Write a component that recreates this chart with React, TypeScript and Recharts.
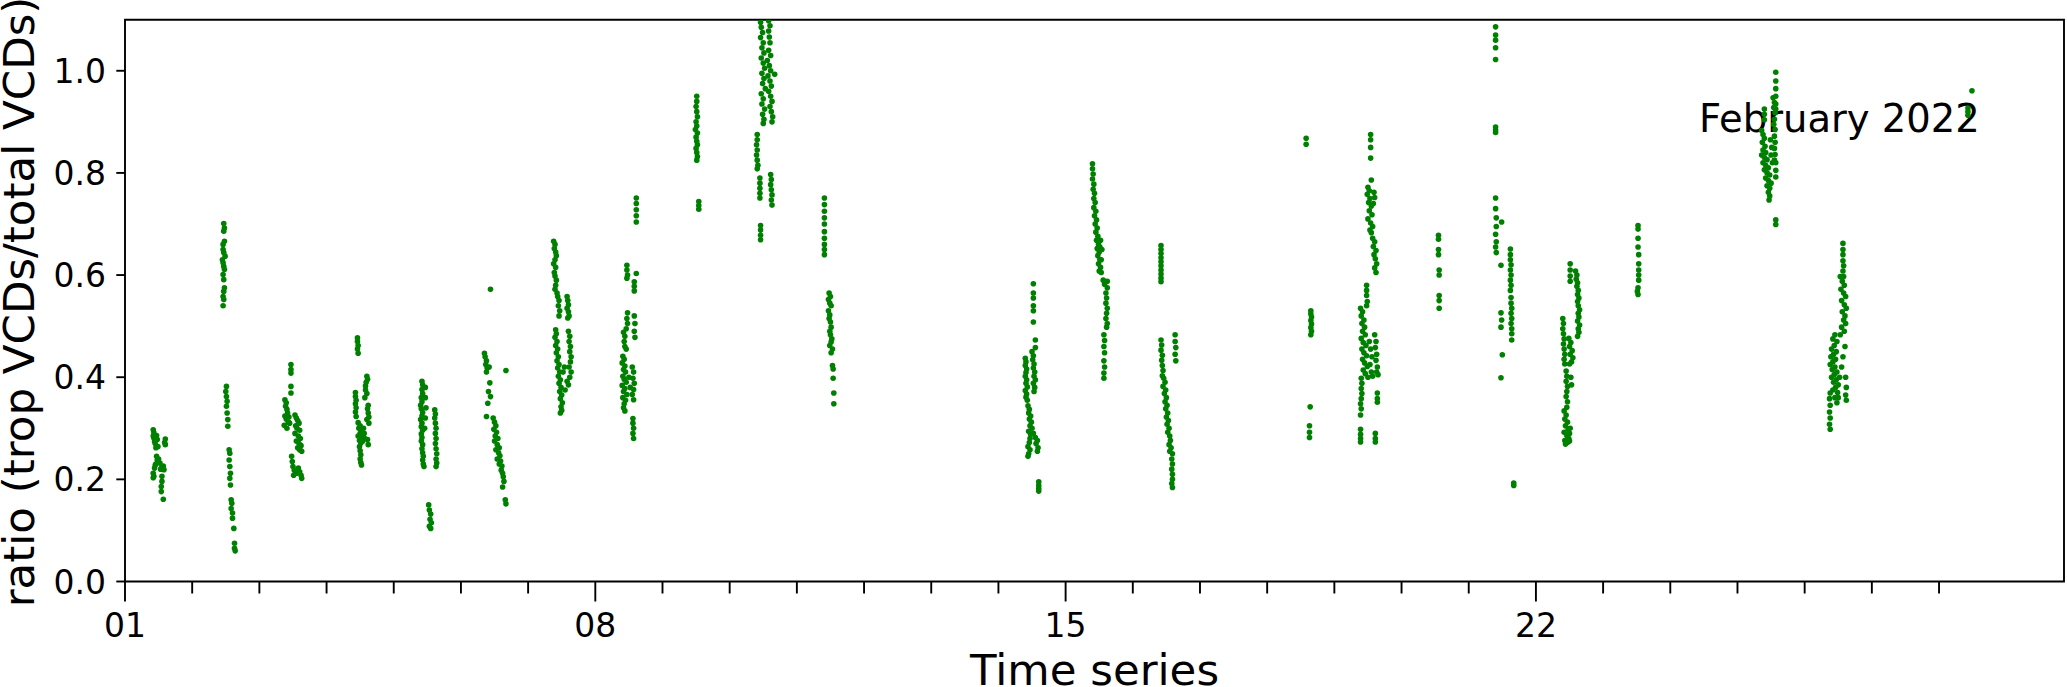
import { ScatterChart, Scatter, XAxis, YAxis, ReferenceArea } from "recharts";

// [day offset from Feb 01 00:00, trop/total VCD ratio]
type Pt = [number, number];

const feb01: Pt[] = [
  [0.42, 0.297], [0.43, 0.291], [0.42, 0.285], [0.43, 0.281], [0.44, 0.274], [0.45, 0.27], [0.46, 0.262], [0.47, 0.286],
  [0.48, 0.278], [0.49, 0.264], [0.6, 0.279], [0.6, 0.268], [0.47, 0.245], [0.48, 0.238], [0.45, 0.228], [0.44, 0.222],
  [0.5, 0.24], [0.52, 0.232], [0.53, 0.22], [0.55, 0.225], [0.57, 0.226], [0.58, 0.219], [0.42, 0.212], [0.43, 0.206],
  [0.42, 0.203], [0.55, 0.206], [0.55, 0.196], [0.54, 0.186], [0.54, 0.176], [0.57, 0.161], [0.46, 0.23], [0.59, 0.272],
];
const feb02: Pt[] = [
  [1.47, 0.701], [1.48, 0.692], [1.47, 0.686], [1.48, 0.666], [1.46, 0.66], [1.46, 0.65], [1.47, 0.644], [1.49, 0.637],
  [1.45, 0.63], [1.46, 0.624], [1.47, 0.617], [1.48, 0.611], [1.46, 0.601], [1.47, 0.591], [1.48, 0.575], [1.47, 0.568],
  [1.46, 0.558], [1.47, 0.552], [1.46, 0.54],
  [1.51, 0.382], [1.5, 0.372], [1.51, 0.362], [1.52, 0.353], [1.51, 0.343], [1.52, 0.33], [1.53, 0.317], [1.53, 0.304],
  [1.55, 0.258], [1.56, 0.251], [1.55, 0.238], [1.56, 0.225], [1.57, 0.212], [1.56, 0.202], [1.57, 0.189], [1.58, 0.16],
  [1.59, 0.153], [1.58, 0.143], [1.6, 0.134], [1.6, 0.124], [1.62, 0.104], [1.63, 0.075], [1.63, 0.065], [1.64, 0.06],
];
const feb03: Pt[] = [
  [2.47, 0.425], [2.47, 0.415], [2.47, 0.408], [2.47, 0.382], [2.47, 0.369],
  [2.38, 0.356], [2.4, 0.35], [2.39, 0.343], [2.41, 0.337], [2.42, 0.33], [2.38, 0.324], [2.4, 0.318], [2.43, 0.312],
  [2.37, 0.306], [2.41, 0.3], [2.44, 0.322], [2.45, 0.31],
  [2.53, 0.326], [2.55, 0.32], [2.57, 0.315], [2.59, 0.31], [2.54, 0.305], [2.56, 0.3], [2.6, 0.296], [2.53, 0.29],
  [2.58, 0.285], [2.61, 0.28], [2.55, 0.275], [2.59, 0.27], [2.62, 0.266], [2.57, 0.262], [2.6, 0.258], [2.63, 0.255],
  [2.48, 0.245], [2.49, 0.235], [2.5, 0.225], [2.52, 0.218], [2.55, 0.212], [2.58, 0.222], [2.6, 0.215], [2.62, 0.208],
  [2.63, 0.202], [2.51, 0.208],
];
const feb04: Pt[] = [
  [3.46, 0.477], [3.46, 0.47], [3.47, 0.462], [3.46, 0.455], [3.47, 0.447],
  [3.43, 0.37], [3.43, 0.362], [3.44, 0.355], [3.43, 0.348], [3.44, 0.34], [3.43, 0.332], [3.44, 0.323],
  [3.6, 0.402], [3.61, 0.396], [3.59, 0.39], [3.58, 0.383], [3.58, 0.375], [3.6, 0.368], [3.57, 0.36], [3.62, 0.345],
  [3.61, 0.338], [3.62, 0.33], [3.63, 0.322], [3.6, 0.317], [3.63, 0.31],
  [3.47, 0.311], [3.5, 0.305], [3.48, 0.3], [3.52, 0.296], [3.5, 0.29], [3.47, 0.285], [3.53, 0.281], [3.49, 0.276],
  [3.51, 0.271], [3.55, 0.3], [3.56, 0.29], [3.57, 0.28], [3.54, 0.275],
  [3.49, 0.264], [3.5, 0.256], [3.51, 0.248], [3.5, 0.24], [3.51, 0.233], [3.52, 0.228], [3.62, 0.268], [3.61, 0.278],
];
const feb05: Pt[] = [
  [4.42, 0.392], [4.43, 0.385], [4.42, 0.376], [4.43, 0.368], [4.41, 0.36], [4.42, 0.352], [4.4, 0.345], [4.41, 0.338],
  [4.43, 0.331], [4.42, 0.324], [4.4, 0.317], [4.42, 0.31], [4.41, 0.303], [4.43, 0.296], [4.41, 0.289], [4.42, 0.282],
  [4.41, 0.275], [4.43, 0.268], [4.42, 0.26], [4.43, 0.252], [4.44, 0.245], [4.43, 0.238], [4.44, 0.23], [4.45, 0.225],
  [4.47, 0.38], [4.47, 0.36], [4.48, 0.34], [4.47, 0.32], [4.46, 0.3],
  [4.61, 0.336], [4.62, 0.328], [4.61, 0.32], [4.62, 0.31], [4.63, 0.3], [4.62, 0.29], [4.63, 0.28], [4.62, 0.27],
  [4.63, 0.26], [4.64, 0.25], [4.63, 0.24], [4.64, 0.232], [4.63, 0.225],
  [4.52, 0.15], [4.53, 0.14], [4.55, 0.132], [4.54, 0.122], [4.56, 0.115], [4.53, 0.108], [4.55, 0.104],
];
const feb06: Pt[] = [
  [5.44, 0.572],
  [5.35, 0.447], [5.36, 0.44], [5.38, 0.432], [5.37, 0.425], [5.39, 0.418], [5.38, 0.41], [5.42, 0.42],
  [5.43, 0.389], [5.41, 0.372], [5.44, 0.362], [5.4, 0.349], [5.38, 0.323], [5.67, 0.413],
  [5.48, 0.32], [5.5, 0.312], [5.52, 0.305], [5.49, 0.298], [5.53, 0.292], [5.51, 0.285], [5.55, 0.28], [5.5, 0.275],
  [5.54, 0.268], [5.57, 0.262], [5.52, 0.258], [5.56, 0.252], [5.58, 0.246], [5.54, 0.24], [5.59, 0.236], [5.57, 0.23],
  [5.61, 0.226], [5.6, 0.218], [5.62, 0.212], [5.63, 0.205], [5.64, 0.196], [5.62, 0.185], [5.67, 0.152], [5.66, 0.16],
];
const feb07: Pt[] = [
  [6.38, 0.666], [6.4, 0.66], [6.39, 0.652], [6.41, 0.645], [6.42, 0.638], [6.4, 0.63], [6.38, 0.622], [6.41, 0.615],
  [6.39, 0.605], [6.4, 0.598], [6.42, 0.59], [6.41, 0.58], [6.4, 0.572], [6.43, 0.565], [6.44, 0.558], [6.46, 0.55],
  [6.45, 0.54], [6.47, 0.53], [6.46, 0.52],
  [6.58, 0.558], [6.59, 0.55], [6.6, 0.542], [6.58, 0.535], [6.6, 0.528], [6.61, 0.52], [6.59, 0.516],
  [6.41, 0.493], [6.42, 0.485], [6.4, 0.478], [6.43, 0.47], [6.41, 0.462], [6.44, 0.455], [6.42, 0.448], [6.45, 0.44],
  [6.43, 0.432], [6.46, 0.425], [6.44, 0.418], [6.47, 0.41], [6.45, 0.402], [6.48, 0.395], [6.46, 0.388], [6.49, 0.38],
  [6.47, 0.372], [6.5, 0.365], [6.48, 0.358], [6.51, 0.35], [6.49, 0.342], [6.5, 0.335], [6.48, 0.33],
  [6.6, 0.49], [6.62, 0.48], [6.61, 0.47], [6.63, 0.46], [6.62, 0.45], [6.64, 0.44], [6.63, 0.43], [6.61, 0.42],
  [6.64, 0.41], [6.62, 0.4], [6.58, 0.392], [6.6, 0.385], [6.55, 0.375], [6.52, 0.41], [6.54, 0.42],
];
const feb08: Pt[] = [
  [7.61, 0.751], [7.61, 0.74], [7.61, 0.728], [7.61, 0.716], [7.61, 0.704],
  [7.47, 0.619], [7.47, 0.61], [7.48, 0.6], [7.47, 0.594], [7.61, 0.603], [7.58, 0.587], [7.58, 0.578], [7.58, 0.569],
  [7.48, 0.526], [7.47, 0.515], [7.48, 0.505], [7.46, 0.495], [7.42, 0.488], [7.44, 0.48], [7.43, 0.47], [7.44, 0.46],
  [7.58, 0.52], [7.59, 0.505], [7.58, 0.49], [7.59, 0.478], [7.46, 0.455],
  [7.41, 0.441], [7.43, 0.435], [7.4, 0.428], [7.44, 0.422], [7.42, 0.415], [7.45, 0.41], [7.41, 0.402], [7.43, 0.396],
  [7.46, 0.39], [7.4, 0.384], [7.44, 0.378], [7.42, 0.372], [7.47, 0.366], [7.41, 0.36], [7.45, 0.355], [7.43, 0.348],
  [7.42, 0.34], [7.44, 0.334], [7.55, 0.42], [7.57, 0.41], [7.56, 0.398], [7.58, 0.388], [7.57, 0.376], [7.55, 0.366],
  [7.57, 0.356], [7.5, 0.4], [7.52, 0.38],
  [7.56, 0.319], [7.56, 0.31], [7.57, 0.3], [7.56, 0.29], [7.57, 0.28],
];
const feb09: Pt[] = [
  [8.51, 0.95], [8.51, 0.94], [8.5, 0.93], [8.51, 0.92], [8.52, 0.91], [8.5, 0.9], [8.51, 0.892], [8.49, 0.885],
  [8.52, 0.878], [8.5, 0.87], [8.51, 0.862], [8.52, 0.855], [8.5, 0.848], [8.51, 0.84], [8.52, 0.832], [8.51, 0.825],
  [8.54, 0.744], [8.54, 0.736], [8.54, 0.729],
];
const feb10: Pt[] = [
  [9.46, 1.095], [9.47, 1.085], [9.49, 1.075], [9.46, 1.065], [9.5, 1.055], [9.48, 1.045], [9.51, 1.035], [9.47, 1.025],
  [9.5, 1.015], [9.52, 1.005], [9.48, 0.995], [9.51, 0.985], [9.49, 0.975], [9.53, 0.965], [9.47, 0.955], [9.5, 0.945],
  [9.48, 0.935], [9.52, 0.925], [9.49, 0.915], [9.51, 0.905], [9.5, 0.897],
  [9.58, 1.098], [9.6, 1.088], [9.58, 1.078], [9.59, 1.066], [9.6, 1.055], [9.58, 1.04], [9.61, 1.03], [9.56, 1.02],
  [9.59, 1.01], [9.61, 1.0], [9.57, 0.99], [9.6, 0.98], [9.62, 0.97], [9.58, 0.96], [9.61, 0.95], [9.63, 0.94],
  [9.6, 0.93], [9.62, 0.92], [9.64, 0.91], [9.63, 0.9], [9.67, 0.993],
  [9.41, 0.875], [9.41, 0.865], [9.4, 0.855], [9.41, 0.845], [9.4, 0.835], [9.41, 0.825], [9.42, 0.815], [9.41, 0.808],
  [9.45, 0.79], [9.45, 0.78], [9.45, 0.77], [9.45, 0.76], [9.45, 0.751],
  [9.61, 0.797], [9.62, 0.787], [9.61, 0.777], [9.62, 0.767], [9.63, 0.757], [9.62, 0.747], [9.63, 0.737],
  [9.46, 0.697], [9.46, 0.688], [9.46, 0.678], [9.46, 0.669],
];
const feb11: Pt[] = [
  [10.41, 0.751], [10.41, 0.738], [10.41, 0.725], [10.41, 0.712], [10.41, 0.7], [10.41, 0.685], [10.41, 0.672],
  [10.41, 0.66], [10.41, 0.65], [10.41, 0.64],
  [10.48, 0.565], [10.5, 0.558], [10.47, 0.552], [10.49, 0.545], [10.51, 0.54], [10.47, 0.53], [10.49, 0.522],
  [10.48, 0.515], [10.5, 0.508], [10.51, 0.498], [10.49, 0.49], [10.5, 0.483], [10.52, 0.475], [10.51, 0.469],
  [10.49, 0.462], [10.53, 0.455], [10.51, 0.448], [10.53, 0.423], [10.54, 0.416], [10.54, 0.398], [10.55, 0.369],
  [10.55, 0.348],
];
const feb14: Pt[] = [
  [13.52, 0.583], [13.52, 0.565], [13.52, 0.555], [13.52, 0.54], [13.52, 0.53], [13.52, 0.508], [13.55, 0.473],
  [13.55, 0.458],
  [13.4, 0.437], [13.41, 0.43], [13.4, 0.423], [13.42, 0.416], [13.41, 0.409], [13.4, 0.402], [13.42, 0.395],
  [13.41, 0.388], [13.43, 0.381], [13.4, 0.374], [13.42, 0.367], [13.41, 0.361], [13.43, 0.355],
  [13.5, 0.45], [13.52, 0.442], [13.51, 0.434], [13.53, 0.426], [13.52, 0.418], [13.54, 0.41], [13.53, 0.402],
  [13.55, 0.395], [13.52, 0.388], [13.54, 0.38], [13.53, 0.372],
  [13.44, 0.344], [13.46, 0.337], [13.45, 0.33], [13.48, 0.324], [13.46, 0.318], [13.49, 0.312], [13.47, 0.305],
  [13.5, 0.3], [13.45, 0.294], [13.48, 0.288], [13.52, 0.29], [13.55, 0.282], [13.58, 0.276], [13.56, 0.27],
  [13.47, 0.28], [13.46, 0.272], [13.44, 0.264], [13.47, 0.258], [13.45, 0.25], [13.44, 0.245], [13.59, 0.262],
  [13.58, 0.255],
  [13.6, 0.195], [13.6, 0.188], [13.6, 0.182], [13.6, 0.177],
];
const feb15: Pt[] = [
  [14.4, 0.818], [14.4, 0.808], [14.41, 0.798], [14.4, 0.788], [14.42, 0.778], [14.41, 0.768], [14.43, 0.76],
  [14.42, 0.75], [14.44, 0.742], [14.42, 0.732], [14.45, 0.725], [14.43, 0.716], [14.46, 0.708], [14.44, 0.7],
  [14.47, 0.692], [14.45, 0.684], [14.48, 0.676], [14.46, 0.668], [14.49, 0.66], [14.47, 0.652], [14.5, 0.645],
  [14.48, 0.638], [14.51, 0.63], [14.49, 0.622], [14.52, 0.615], [14.5, 0.608], [14.53, 0.605], [14.52, 0.668],
  [14.54, 0.65], [14.53, 0.63], [14.51, 0.655],
  [14.56, 0.59], [14.58, 0.582], [14.62, 0.588], [14.62, 0.575], [14.6, 0.565], [14.61, 0.555], [14.6, 0.545],
  [14.62, 0.535], [14.61, 0.525], [14.6, 0.515], [14.62, 0.505], [14.61, 0.498],
  [14.57, 0.483], [14.58, 0.472], [14.57, 0.46], [14.58, 0.448], [14.57, 0.432], [14.58, 0.42], [14.57, 0.408],
  [14.57, 0.398],
];
const feb16: Pt[] = [
  [15.42, 0.658], [15.42, 0.65], [15.42, 0.642], [15.42, 0.634], [15.42, 0.626], [15.42, 0.618], [15.42, 0.61],
  [15.42, 0.602], [15.42, 0.594], [15.42, 0.587],
  [15.42, 0.473], [15.43, 0.463], [15.42, 0.453], [15.44, 0.443], [15.43, 0.433], [15.44, 0.423], [15.45, 0.413],
  [15.44, 0.403], [15.63, 0.483], [15.63, 0.47], [15.64, 0.458], [15.63, 0.445], [15.64, 0.432],
  [15.46, 0.398], [15.48, 0.39], [15.45, 0.382], [15.49, 0.375], [15.47, 0.368], [15.5, 0.36], [15.48, 0.352],
  [15.51, 0.345], [15.49, 0.338], [15.52, 0.33], [15.5, 0.322], [15.53, 0.315], [15.51, 0.308], [15.54, 0.3],
  [15.52, 0.292], [15.55, 0.285], [15.56, 0.276], [15.54, 0.268], [15.57, 0.262], [15.55, 0.255],
  [15.59, 0.25], [15.58, 0.24], [15.59, 0.23], [15.58, 0.22], [15.59, 0.21], [15.59, 0.2], [15.58, 0.192],
  [15.59, 0.184],
];
const feb18: Pt[] = [
  [17.58, 0.868], [17.58, 0.856], [17.65, 0.53], [17.65, 0.524], [17.66, 0.518], [17.65, 0.511], [17.66, 0.504],
  [17.65, 0.497], [17.66, 0.49], [17.65, 0.483], [17.64, 0.342], [17.63, 0.305], [17.63, 0.292], [17.63, 0.282],
];
const feb19: Pt[] = [
  [18.54, 0.875], [18.54, 0.865], [18.54, 0.85], [18.54, 0.829], [18.55, 0.786],
  [18.5, 0.772], [18.52, 0.765], [18.49, 0.758], [18.53, 0.75], [18.51, 0.742], [18.59, 0.762], [18.6, 0.752],
  [18.58, 0.74], [18.55, 0.735], [18.52, 0.726], [18.56, 0.718], [18.5, 0.71], [18.54, 0.702], [18.57, 0.695],
  [18.53, 0.688], [18.55, 0.683],
  [18.57, 0.672], [18.6, 0.665], [18.58, 0.656], [18.62, 0.648], [18.59, 0.64], [18.61, 0.632], [18.63, 0.622],
  [18.6, 0.614], [18.62, 0.605],
  [18.48, 0.58], [18.48, 0.57], [18.48, 0.56], [18.49, 0.548], [18.48, 0.54],
  [18.39, 0.535], [18.42, 0.528], [18.4, 0.52], [18.44, 0.512], [18.41, 0.505], [18.45, 0.498], [18.42, 0.49],
  [18.46, 0.483], [18.4, 0.476], [18.43, 0.468], [18.47, 0.462], [18.41, 0.455], [18.44, 0.448], [18.48, 0.442],
  [18.42, 0.435], [18.45, 0.428], [18.49, 0.421], [18.43, 0.414], [18.46, 0.407], [18.5, 0.4], [18.52, 0.47],
  [18.54, 0.455], [18.56, 0.44], [18.53, 0.425], [18.55, 0.41], [18.57, 0.402],
  [18.6, 0.483], [18.62, 0.47], [18.61, 0.458], [18.63, 0.445], [18.62, 0.433], [18.64, 0.42], [18.63, 0.41],
  [18.65, 0.405],
  [18.4, 0.398], [18.41, 0.388], [18.4, 0.378], [18.41, 0.368], [18.4, 0.358], [18.39, 0.348], [18.4, 0.338],
  [18.39, 0.326], [18.64, 0.369], [18.64, 0.358], [18.64, 0.351],
  [18.39, 0.298], [18.39, 0.288], [18.39, 0.28], [18.39, 0.273], [18.61, 0.29], [18.61, 0.28], [18.61, 0.273],
];
const feb20: Pt[] = [
  [19.55, 0.678], [19.55, 0.67], [19.55, 0.65], [19.55, 0.64], [19.56, 0.61], [19.56, 0.6], [19.56, 0.56],
  [19.56, 0.55], [19.56, 0.535],
];
const feb21: Pt[] = [
  [20.4, 1.086], [20.4, 1.07], [20.4, 1.06], [20.4, 1.045], [20.4, 1.022], [20.4, 0.89], [20.4, 0.884], [20.4, 0.879],
  [20.4, 0.751], [20.4, 0.73], [20.41, 0.712], [20.41, 0.695], [20.4, 0.68], [20.41, 0.665], [20.4, 0.655],
  [20.41, 0.644],
  [20.49, 0.704], [20.48, 0.619], [20.48, 0.526], [20.49, 0.512], [20.48, 0.498], [20.5, 0.444], [20.48, 0.399],
  [20.62, 0.651], [20.62, 0.64], [20.62, 0.63], [20.63, 0.62], [20.62, 0.61], [20.63, 0.6], [20.62, 0.59],
  [20.63, 0.58], [20.62, 0.57], [20.63, 0.556], [20.63, 0.545], [20.64, 0.535], [20.63, 0.525], [20.64, 0.515],
  [20.63, 0.505], [20.64, 0.495], [20.64, 0.485], [20.64, 0.473],
  [20.67, 0.193], [20.67, 0.188],
];
const feb22: Pt[] = [
  [21.51, 0.622], [21.51, 0.61], [21.51, 0.598], [21.51, 0.588],
  [21.59, 0.608], [21.61, 0.6], [21.6, 0.592], [21.62, 0.585], [21.61, 0.578], [21.63, 0.57], [21.62, 0.562],
  [21.64, 0.555], [21.62, 0.548], [21.63, 0.54], [21.65, 0.532], [21.63, 0.525], [21.64, 0.518], [21.62, 0.51],
  [21.65, 0.502], [21.63, 0.495], [21.64, 0.488], [21.62, 0.48],
  [21.4, 0.515], [21.41, 0.505], [21.4, 0.495], [21.41, 0.485], [21.42, 0.475], [21.41, 0.465], [21.42, 0.455],
  [21.43, 0.445], [21.42, 0.435], [21.43, 0.426],
  [21.49, 0.476], [21.52, 0.468], [21.5, 0.46], [21.54, 0.452], [21.51, 0.445], [21.55, 0.438], [21.53, 0.43],
  [21.5, 0.426],
  [21.45, 0.412], [21.46, 0.402], [21.45, 0.392], [21.47, 0.382], [21.46, 0.372], [21.45, 0.362], [21.47, 0.352],
  [21.46, 0.341], [21.52, 0.4], [21.53, 0.385],
  [21.42, 0.334], [21.45, 0.326], [21.43, 0.318], [21.47, 0.312], [21.44, 0.305], [21.48, 0.298], [21.42, 0.292],
  [21.46, 0.286], [21.49, 0.28], [21.43, 0.276], [21.47, 0.272], [21.44, 0.269], [21.5, 0.29], [21.51, 0.3],
  [21.5, 0.275],
];
const feb23: Pt[] = [
  [22.52, 0.697], [22.52, 0.69], [22.52, 0.672], [22.52, 0.655], [22.53, 0.64], [22.53, 0.622], [22.53, 0.61],
  [22.53, 0.6], [22.53, 0.59], [22.52, 0.575], [22.51, 0.568], [22.52, 0.562],
];
const feb25: Pt[] = [
  [24.57, 0.997], [24.57, 0.98], [24.57, 0.965], [24.57, 0.95], [24.57, 0.935], [24.57, 0.925],
  [24.53, 0.947], [24.55, 0.938], [24.54, 0.928], [24.56, 0.918], [24.55, 0.905], [24.54, 0.895], [24.56, 0.885],
  [24.55, 0.872], [24.56, 0.86], [24.55, 0.848], [24.56, 0.836], [24.55, 0.825],
  [24.4, 0.925], [24.4, 0.915], [24.4, 0.904],
  [24.36, 0.883], [24.38, 0.875], [24.4, 0.868], [24.37, 0.86], [24.41, 0.852], [24.38, 0.845], [24.42, 0.84],
  [24.36, 0.835], [24.4, 0.83], [24.44, 0.826], [24.38, 0.82], [24.42, 0.815], [24.46, 0.81], [24.4, 0.806],
  [24.44, 0.8], [24.48, 0.796], [24.42, 0.79], [24.46, 0.785], [24.5, 0.78], [24.44, 0.775], [24.48, 0.77],
  [24.46, 0.762], [24.48, 0.755], [24.47, 0.747], [24.5, 0.835], [24.52, 0.82], [24.51, 0.85], [24.49, 0.865],
  [24.57, 0.82], [24.57, 0.805], [24.57, 0.792],
  [24.57, 0.708], [24.57, 0.699],
];
const feb26: Pt[] = [
  [25.57, 0.662], [25.57, 0.65], [25.57, 0.64], [25.57, 0.628], [25.58, 0.618], [25.57, 0.608], [25.58, 0.597],
  [25.53, 0.597], [25.56, 0.588], [25.59, 0.58], [25.54, 0.572], [25.58, 0.565], [25.61, 0.558], [25.55, 0.55],
  [25.59, 0.542], [25.62, 0.535], [25.56, 0.528], [25.6, 0.52], [25.58, 0.512], [25.61, 0.505], [25.55, 0.498],
  [25.59, 0.49], [25.53, 0.483],
  [25.45, 0.483], [25.42, 0.475], [25.48, 0.47], [25.44, 0.462], [25.4, 0.455], [25.47, 0.45], [25.43, 0.445],
  [25.39, 0.44], [25.46, 0.435], [25.42, 0.43], [25.38, 0.425], [25.45, 0.42], [25.41, 0.415], [25.48, 0.41],
  [25.44, 0.405], [25.4, 0.4], [25.47, 0.395], [25.43, 0.39], [25.5, 0.385], [25.46, 0.38], [25.42, 0.375],
  [25.49, 0.37], [25.52, 0.4], [25.55, 0.42], [25.57, 0.44], [25.6, 0.46], [25.61, 0.4], [25.62, 0.38],
  [25.61, 0.365], [25.62, 0.355], [25.45, 0.36], [25.48, 0.35], [25.5, 0.36],
  [25.38, 0.369], [25.37, 0.358], [25.38, 0.345], [25.37, 0.332], [25.38, 0.32], [25.37, 0.308], [25.38, 0.298],
];
const feb28: Pt[] = [[27.49, 0.961], [27.43, 0.927], [27.43, 0.92], [27.43, 0.913]];

const dayTicks = [0, 1, 2, 3, 4, 5, 6, 7, 8, 9, 10, 11, 12, 13, 14, 15, 16, 17, 18, 19, 20, 21, 22, 23, 24, 25, 26, 27];
const dayLabels: Record<number, string> = { 0: "01", 7: "08", 14: "15", 21: "22" };
const ratioTicks = [0, 0.2, 0.4, 0.6, 0.8, 1.0];

const X_MAX = 28.86;
const Y_MAX = 1.1;
const FONT = "'DejaVu Sans', sans-serif";
const GREEN = "#008000";

const points = [
  feb01, feb02, feb03, feb04, feb05, feb06, feb07, feb08, feb09, feb10, feb11,
  feb14, feb15, feb16, feb18, feb19, feb20, feb21, feb22, feb23, feb25, feb26, feb28,
].flat().map(([day, ratio]) => ({ day, ratio }));

function DayTick({ x, y, payload }: any) {
  const label = dayLabels[payload.value];
  return (
    <g>
      <line x1={x} y1={y} x2={x} y2={y + (label ? 20 : 12)} stroke="#000" strokeWidth={1.9} />
      {label && (
        <text x={x} y={y + 55.5} textAnchor="middle" fontSize={33} fontFamily={FONT} fill="#000">
          {label}
        </text>
      )}
    </g>
  );
}

function RatioTick({ x, y, payload }: any) {
  return (
    <g>
      <line x1={x - 8.7} y1={y} x2={x} y2={y} stroke="#000" strokeWidth={1.9} />
      <text x={x - 19} y={y + 12} textAnchor="end" fontSize={33} fontFamily={FONT} fill="#000">
        {payload.value.toFixed(1)}
      </text>
    </g>
  );
}

export default function App() {
  return (
    <div style={{ position: "absolute", left: 0, top: 0, background: "#fff" }}>
      <ScatterChart width={2067} height={687} margin={{ top: 19.7, right: 3, bottom: 0, left: 0 }}>
        <XAxis
          dataKey="day"
          type="number"
          domain={[0, X_MAX]}
          allowDataOverflow
          ticks={dayTicks}
          interval={0}
          tick={<DayTick />}
          tickLine={false}
          tickSize={0}
          tickMargin={0}
          axisLine={false}
          height={105.5}
          label={() => (
            <text x={1094.5} y={685} textAnchor="middle" fontSize={43.5} fontFamily={FONT} fill="#000">
              Time series
            </text>
          )}
        />
        <YAxis
          dataKey="ratio"
          type="number"
          domain={[0, Y_MAX]}
          allowDataOverflow
          ticks={ratioTicks}
          interval={0}
          tick={<RatioTick />}
          tickLine={false}
          tickSize={0}
          tickMargin={0}
          axisLine={false}
          width={125}
          label={() => (
            <text
              x={34}
              y={302}
              transform="rotate(-90 34 302)"
              textAnchor="middle"
              fontSize={43.5}
              fontFamily={FONT}
              fill="#000"
            >
              ratio (trop VCDs/total VCDs)
            </text>
          )}
        />
        <ReferenceArea
          x1={0}
          x2={X_MAX}
          y1={0}
          y2={Y_MAX}
          fill="none"
          stroke="#000"
          strokeWidth={1.9}
          ifOverflow="visible"
          label={() => (
            <text x={1699} y={131.7} fontSize={38.5} fontFamily={FONT} fill="#000">
              February 2022
            </text>
          )}
        />
        <Scatter
          data={points}
          isAnimationActive={false}
          shape={(p: any) => <circle cx={p.cx} cy={p.cy} r={2.8} fill={GREEN} />}
        />
      </ScatterChart>
    </div>
  );
}
